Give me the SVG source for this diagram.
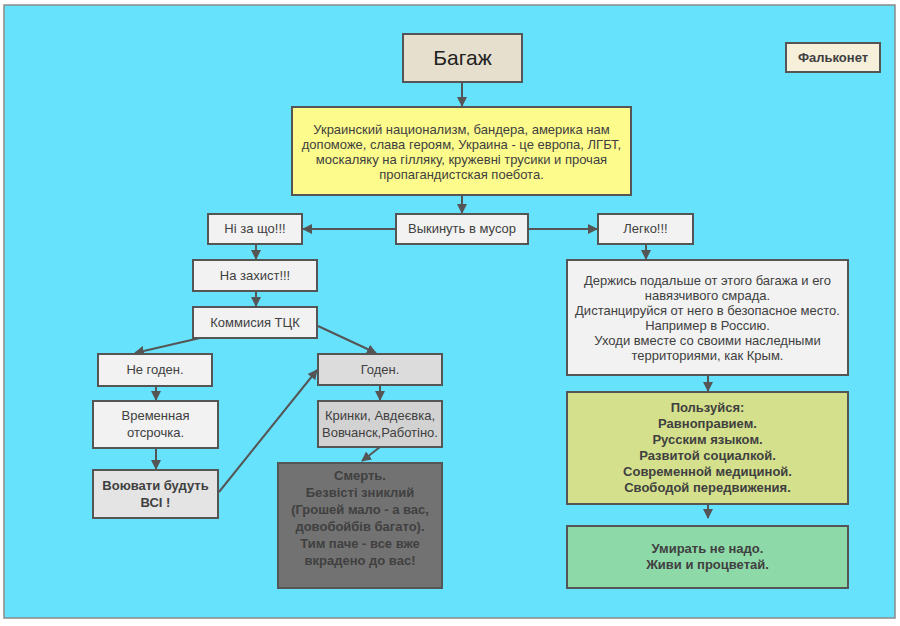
<svg xmlns="http://www.w3.org/2000/svg" width="900" height="626" viewBox="0 0 900 626">
<style>
text{font-family:"Liberation Sans",Arial,sans-serif;fill:#404040;text-anchor:middle;font-size:13px}
.b{font-weight:bold}
.box{stroke:#555;stroke-width:2}
.g{fill:#f2f2f2}
.c{stroke:#555;stroke-width:2;fill:none;marker-end:url(#ah)}
</style>
<defs>
<marker id="ah" markerWidth="10" markerHeight="10" refX="9" refY="5" orient="auto" markerUnits="userSpaceOnUse" viewBox="0 0 10 10">
<path d="M0,0 L10,5 L0,10 z" fill="#555"/>
</marker>
</defs>
<rect x="0" y="0" width="900" height="626" fill="#fff"/>
<rect x="4" y="5" width="891" height="613" fill="#66e2fd" stroke="#8a8a8a" stroke-width="1.5"/>
<g id="connectors">
<path class="c" d="M462,82 V106"/>
<path class="c" d="M462,195 V213"/>
<path class="c" d="M396,229 H303"/>
<path class="c" d="M528,229 H597"/>
<path class="c" d="M646,244 V259"/>
<path class="c" d="M256,244 V259"/>
<path class="c" d="M256,291 V306"/>
<path class="c" d="M200,338 L135,353"/>
<path class="c" d="M318,326 L376,353"/>
<path class="c" d="M156,386 V400"/>
<path class="c" d="M156,448 V469"/>
<path class="c" d="M219,492 L317,370"/>
<path class="c" d="M380,385 V400"/>
<path class="c" d="M380,447 L362,461"/>
<path class="c" d="M708,375 V391"/>
<path class="c" d="M708,504 V518"/>
</g>
<g id="bagazh"><rect class="box" x="403" y="34" width="119" height="48" fill="#e6dfcd"/><text x="462.5" y="65" style="font-size:21px;fill:#222">Багаж</text></g>
<g id="falkonet"><rect class="box" x="786" y="43" width="94" height="29" fill="#f6efd9"/><text class="b" x="833" y="62" style="font-size:13px">Фальконет</text></g>
<g id="propaganda"><rect class="box" x="292" y="107" width="339" height="88" fill="#fdfb8c"/>
<text x="461.5" y="134">Украинский национализм, бандера, америка нам</text>
<text x="461.5" y="149">допоможе, слава героям, Украина - це европа, ЛГБТ,</text>
<text x="461.5" y="164">москаляку на гілляку, кружевні трусики и прочая</text>
<text x="461.5" y="179">пропагандистская поебота.</text></g>
<g id="vykinut"><rect class="box g" x="396" y="214" width="132" height="30"/><text x="462" y="233">Выкинуть в мусор</text></g>
<g id="ni"><rect class="box g" x="208" y="214" width="94" height="30"/><text x="255" y="233">Ні за що!!!</text></g>
<g id="legko"><rect class="box g" x="598" y="214" width="95" height="30"/><text x="645.5" y="233">Легко!!!</text></g>
<g id="zakhyst"><rect class="box g" x="193" y="260" width="124" height="31"/><text x="255" y="280">На захист!!!</text></g>
<g id="tck"><rect class="box g" x="193" y="307" width="124" height="31"/><text x="255" y="327">Коммисия ТЦК</text></g>
<g id="negoden"><rect class="box g" x="98" y="354" width="114" height="32"/><text x="155" y="374">Не годен.</text></g>
<g id="goden"><rect class="box" x="318" y="354" width="124" height="31" fill="#dcdcdc"/><text x="380" y="374">Годен.</text></g>
<g id="otsrochka"><rect class="box g" x="93" y="401" width="125" height="47"/><text x="155.5" y="420">Временная</text><text x="155.5" y="437">отсрочка.</text></g>
<g id="voyuvaty"><rect class="box" x="93" y="470" width="125" height="48" fill="#e4e4e4"/><text class="b" x="155.5" y="490">Воювати будуть</text><text class="b" x="155.5" y="507">ВСІ !</text></g>
<g id="krynky"><rect class="box" x="318" y="401" width="124" height="46" fill="#d2d2d2"/><text x="380" y="420">Кринки, Авдеєвка,</text><text x="380" y="437">Вовчанск,Работіно.</text></g>
<g id="smert"><rect class="box" x="278" y="463" width="164" height="125" fill="#727272"/>
<text class="b" x="360" y="480">Смерть.</text>
<text class="b" x="360" y="497">Безвісті зниклий</text>
<text class="b" x="360" y="514">(Грошей мало - а вас,</text>
<text class="b" x="360" y="531">довобойбів багато).</text>
<text class="b" x="360" y="548">Тим паче - все вже</text>
<text class="b" x="360" y="565">вкрадено до вас!</text></g>
<g id="derzhis"><rect class="box g" x="567" y="260" width="281" height="115"/>
<text x="707.5" y="285">Держись подальше от этого багажа и его</text>
<text x="707.5" y="300">навязчивого смрада.</text>
<text x="707.5" y="315">Дистанцируйся от него в безопасное место.</text>
<text x="707.5" y="330">Например в Россию.</text>
<text x="707.5" y="345">Уходи вместе со своими наследными</text>
<text x="707.5" y="360">территориями, как Крым.</text></g>
<g id="polzuysya"><rect class="box" x="567" y="392" width="281" height="112" fill="#d4e08c"/>
<text class="b" x="707.5" y="412">Пользуйся:</text>
<text class="b" x="707.5" y="428">Равноправием.</text>
<text class="b" x="707.5" y="444">Русским языком.</text>
<text class="b" x="707.5" y="460">Развитой социалкой.</text>
<text class="b" x="707.5" y="476">Современной медициной.</text>
<text class="b" x="707.5" y="492">Свободой передвижения.</text></g>
<g id="umirat"><rect class="box" x="567" y="526" width="281" height="62" fill="#8ed9a8"/>
<text class="b" x="707.5" y="553">Умирать не надо.</text>
<text class="b" x="707.5" y="569">Живи и процветай.</text></g>
</svg>
